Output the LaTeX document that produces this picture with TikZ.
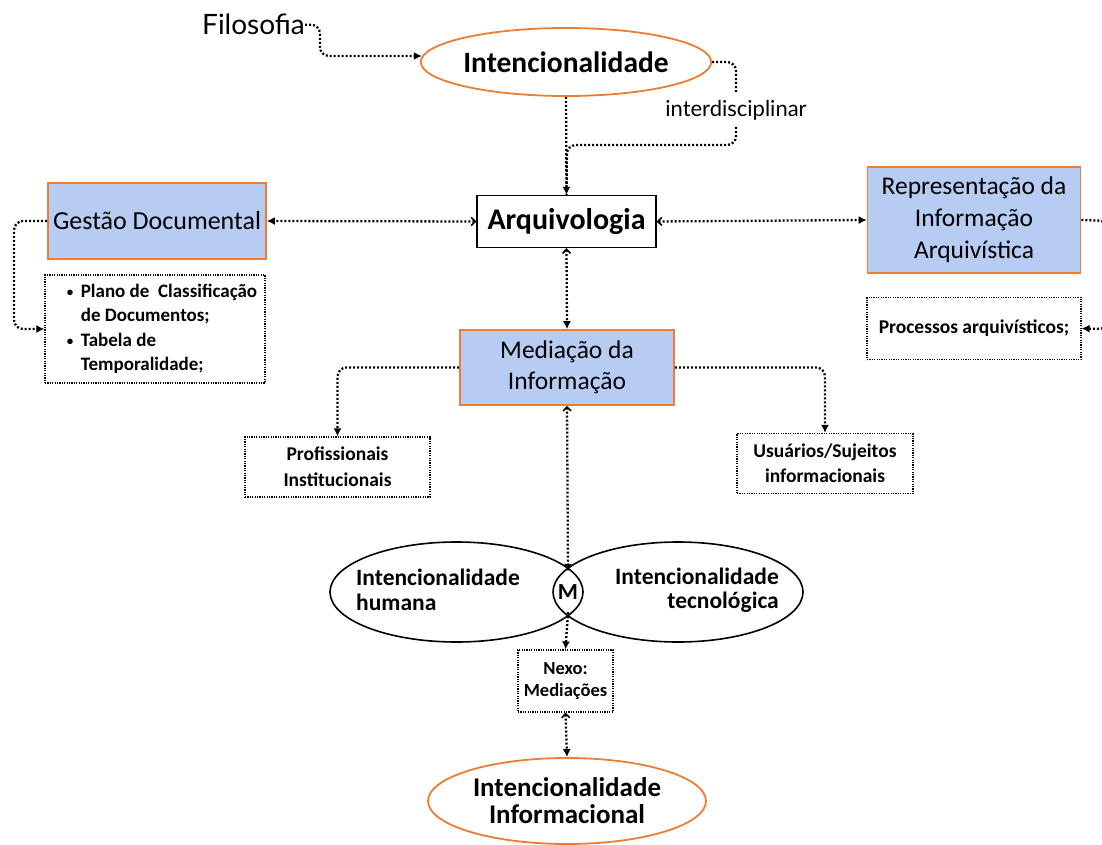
\documentclass[tikz,border=0pt]{standalone}
\usepackage{fontspec}
\setmainfont{Carlito}
\newfontfamily\thinfont{Lato}
\usetikzlibrary{arrows.meta,shapes.geometric}
\definecolor{oline}{HTML}{ED7D31}
\definecolor{bfill}{HTML}{B7CCF2}
\newcommand{\smbul}{\makebox[14pt][l]{\raisebox{1pt}{\fontsize{13}{13}\selectfont\textbullet}}}
\tikzset{
  bluebox/.style={draw=oline, fill=bfill, line width=1.6pt, align=center, inner sep=0pt},
  dbox/.style={draw, line width=1.2pt, dash pattern=on 1.2pt off 1.2pt, align=center, inner sep=0pt},
  oell/.style={ellipse, draw=oline, line width=1.8pt, inner sep=0pt, align=center},
  bell/.style={ellipse, draw, line width=1.6pt, inner sep=0pt},
  conn/.style={line width=2.3pt, dash pattern=on 2pt off 2pt, rounded corners=9pt},
  fa/.style={-{Latex[length=8pt,width=8pt]}},
  ba/.style={{Straight Barb[length=4pt,width=8pt,line width=1.6pt]}-{Latex[length=8pt,width=8pt]}},
}
\begin{document}
\begin{tikzpicture}[x=1pt,y=-1pt]
\useasboundingbox (0,0) rectangle (1102,845);

% nodes
\node[anchor=base west, inner sep=0pt, font=\thinfont\fontsize{28}{30}\selectfont] (fil) at (202,35) {Filosofia};
\node[oell, minimum width=278, minimum height=68, font=\bfseries\fontsize{29.5}{32}\selectfont] (int) at (566,62) {Intencionalidade};
\node[inner sep=1pt, font=\thinfont\fontsize{22}{24}\selectfont] (idl) at (736,110) {interdisciplinar};

\node[draw, line width=1.4pt, fill=white, minimum width=179, minimum height=52, inner sep=0pt, font=\bfseries\fontsize{30}{32}\selectfont] (arq) at (566.5,221.5) {Arquivologia};

\node[bluebox, minimum width=218, minimum height=76, font=\fontsize{26}{30}\selectfont] (gd) at (157,221) {Gestão Documental};
\node[bluebox, minimum width=213, minimum height=106, font=\fontsize{25.5}{32}\selectfont] (rep) at (974,220) {Representação da\\Informação\\Arquivística};

\node[dbox, minimum width=220, minimum height=108, align=left, font=\bfseries\fontsize{19}{24.5}\selectfont] (bl) at (155,329)
 {\hspace*{14pt}\smbul Plano de\ \ Classificação\\\hspace*{28pt}de Documentos;\\\hspace*{14pt}\smbul Tabela de\\\hspace*{28pt}Temporalidade;};
\node[dbox, minimum width=214, minimum height=62, font=\bfseries\fontsize{19.5}{22}\selectfont] (proc) at (974,328.5) {Processos arquivísticos;};

\node[bluebox, minimum width=214, minimum height=75, font=\fontsize{25.5}{31}\selectfont] (med) at (567,367.5) {Mediação da\\Informação};

\node[dbox, minimum width=185, minimum height=60, font=\bfseries\fontsize{19.5}{26}\selectfont] (prof) at (337.5,467) {Profissionais\\Institucionais};
\node[dbox, minimum width=176, minimum height=60, font=\bfseries\fontsize{19.5}{25}\selectfont] (usu) at (825,463.5) {Usuários/Sujeitos\\informacionais};

\node[bell, minimum width=253, minimum height=100] (eh) at (456.5,592) {};
\node[bell, minimum width=250, minimum height=100] (et) at (678,592) {};
\node[anchor=west, align=left, inner sep=0pt, font=\bfseries\fontsize{23.5}{24.5}\selectfont] (th) at (356,590) {Intencionalidade\\humana};
\node[anchor=east, align=right, inner sep=0pt, font=\bfseries\fontsize{23.5}{24.5}\selectfont] (tt) at (779,590) {Intencionalidade\\tecnológica};
\node[circle, inner sep=0pt, minimum size=40, font=\bfseries\fontsize{23}{24}\selectfont] (m) at (568,592) {M};

\node[dbox, minimum width=95, minimum height=62, font=\bfseries\fontsize{18.5}{22}\selectfont] (nexo) at (565.5,681) {Nexo:\\Mediações};

\node[oell, minimum width=278, minimum height=86, font=\bfseries\fontsize{27}{27}\selectfont] (inf) at (567,801) {Intencionalidade\\Informacional};

% connectors
\coordinate (c1) at (320,56);
\draw[conn,fa] (fil.east) -| (c1) -- ([xshift=2pt,yshift=6pt]int.west);
\draw[conn,fa] (int.south) -- (arq.north);
\coordinate (c2) at (736,93);
\coordinate (c3) at (736,127);
\coordinate (c4) at (567,145);
\draw[conn] (int.east) -| (c2);
\draw[conn] (c3) |- (c4) -- (arq.north);

\draw[conn,ba] (arq.west) -- (gd.east);
\draw[conn,ba] (arq.east) -- (rep.west);
\draw[conn,ba] (arq.south) -- (med.north);

\coordinate (c5) at (14,221);
\draw[conn,fa] (gd.west) -- (c5) |- (bl.west);

\coordinate (c6) at (1108,221);
\coordinate (c7) at (1108,329);
\draw[conn,fa] (rep.east) -- (c6) -- (c7) -- (proc.east);

\draw[conn,fa] (med.west) -| (prof.north);
\draw[conn,fa] (med.east) -| (usu.north);

\draw[conn,ba] (med.south) -- (m.north);
\draw[conn,fa] (m.south) -- (nexo.north);
\draw[conn,ba] (nexo.south) -- (inf.north);
\end{tikzpicture}
\end{document}
